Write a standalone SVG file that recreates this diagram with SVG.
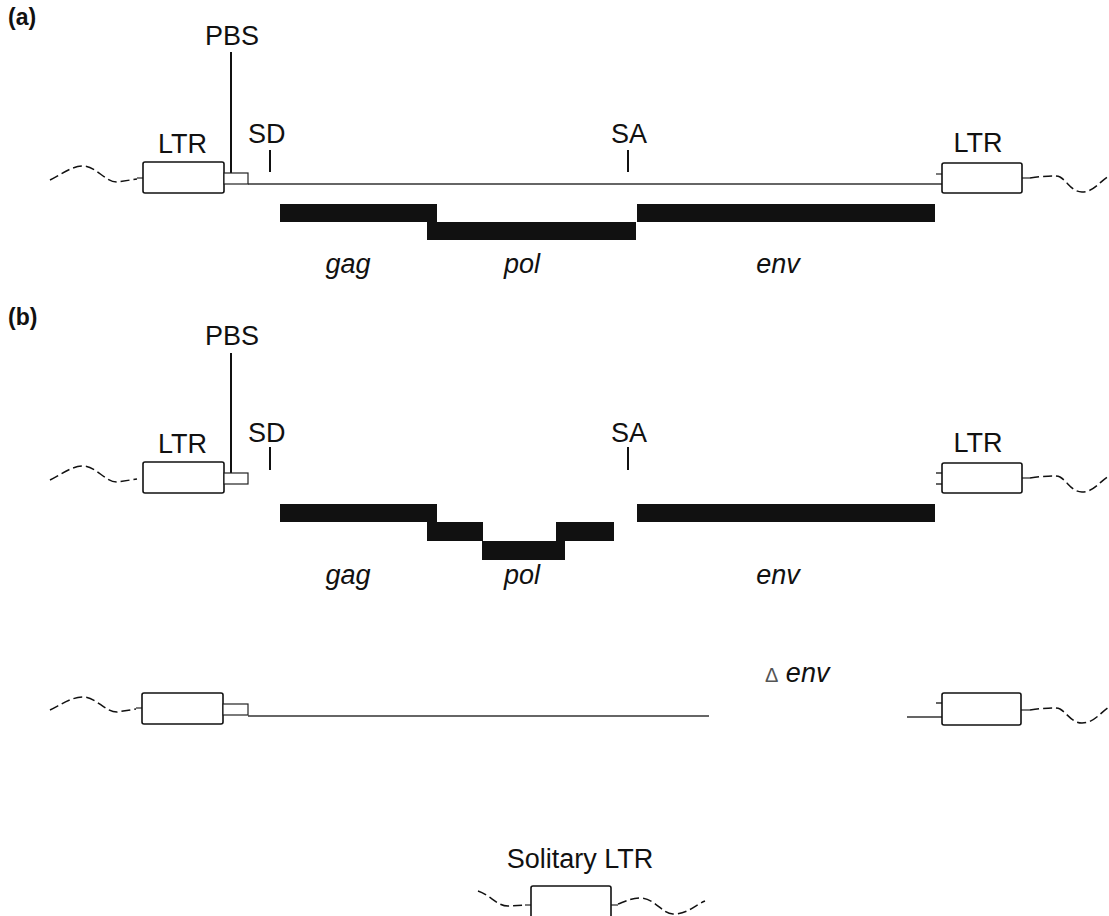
<svg xmlns="http://www.w3.org/2000/svg" width="1109" height="916" viewBox="0 0 1109 916">
<style>
.lbl{font-family:"Liberation Sans",Arial,sans-serif;font-size:27px;fill:#111}
.gene{font-family:"Liberation Sans",Arial,sans-serif;font-size:27px;font-style:italic;fill:#111}
.panel{font-family:"Liberation Sans",Arial,sans-serif;font-size:23px;font-weight:bold;fill:#111}
.box{fill:#fff;stroke:#111;stroke-width:1.6}
.pbs{fill:#fff;stroke:#222;stroke-width:1.2}
.wave{fill:none;stroke:#111;stroke-width:1.5;stroke-dasharray:9 4}
.ln{fill:none;stroke:#333;stroke-width:1.3}
.tick{fill:none;stroke:#111;stroke-width:2}
.bar{fill:#111}
</style>
<rect width="1109" height="916" fill="#fff"/>

<text class="panel" x="8" y="25">(a)</text>
<text class="panel" x="8" y="325">(b)</text>

<g id="connectors">
  <!-- row a -->
  <path class="wave" d="M50,180 C62,174 72,166 83,166 C96,166 105,182 117,182 L137,179"/>
  <path class="ln" d="M137,178 H143"/>
  <path class="ln" d="M248,184 H942"/>
  <path class="ln" d="M936,174 H942"/>
  <path class="ln" d="M1022,178 H1030"/>
  <path class="wave" d="M1030,178 C1045,176 1055,175 1060,177 C1068,182 1072,192 1082,192 C1094,192 1100,181 1109,176"/>
  <path class="tick" d="M231,52 V173"/>
  <!-- row b -->
  <path class="wave" d="M50,480 C62,474 72,466 83,466 C96,466 105,482 117,482 L137,479"/>
  <path class="tick" d="M231,353 V475"/>
  <path class="ln" d="M936,473 H942 M936,484 H942"/>
  <path class="ln" d="M1022,478 H1030"/>
  <path class="wave" d="M1030,478 C1045,476 1055,475 1060,477 C1068,482 1072,492 1082,492 C1094,492 1100,481 1109,476"/>
  <!-- row delta env -->
  <path class="wave" d="M50,710 C62,704 72,697 83,697 C96,697 105,712 117,712 L136,709"/>
  <path class="ln" d="M136,708 H142"/>
  <path class="ln" d="M248,716 H709"/>
  <path class="ln" d="M907,717 H942 M936,703 H942"/>
  <path class="ln" d="M1021,710 H1030"/>
  <path class="wave" d="M1030,710 C1045,708 1055,707 1060,709 C1068,714 1072,723 1082,723 C1094,723 1100,713 1109,707"/>
  <!-- solitary -->
  <path class="wave" d="M478,891 C490,895 497,906 508,906 L525,905"/>
  <path class="ln" d="M525,905 H531"/>
  <path class="ln" d="M611,905 H618"/>
  <path class="wave" d="M618,904 C626,901 632,898 640,898 C655,898 662,914 673,914 C688,914 695,905 705,901"/>
</g>

<!-- (a) -->
<g id="ltr-a-left">
  <rect class="box" x="143" y="162" width="81" height="31" rx="2"/>
  <text class="lbl" x="158" y="153">LTR</text>
</g>
<g id="pbs-a">
  <rect class="pbs" x="224" y="173" width="24" height="11"/>
  <text class="lbl" x="232" y="45" text-anchor="middle">PBS</text>
</g>
<g id="sd-a">
  <path class="tick" d="M270,150 V172"/>
  <text class="lbl" x="248" y="143">SD</text>
</g>
<g id="sa-a">
  <path class="tick" d="M628,150 V172"/>
  <text class="lbl" x="629" y="143" text-anchor="middle">SA</text>
</g>
<g id="ltr-a-right">
  <rect class="box" x="942" y="163" width="80" height="30" rx="2"/>
  <text class="lbl" x="978" y="152" text-anchor="middle">LTR</text>
</g>
<g id="gag-a">
  <rect class="bar" x="280" y="204" width="157" height="18"/>
  <text class="gene" x="348" y="273" text-anchor="middle">gag</text>
</g>
<g id="pol-a">
  <rect class="bar" x="427" y="222" width="209" height="18"/>
  <text class="gene" x="522" y="273" text-anchor="middle">pol</text>
</g>
<g id="env-a">
  <rect class="bar" x="637" y="204" width="298" height="18"/>
  <text class="gene" x="778" y="273" text-anchor="middle">env</text>
</g>

<!-- (b) -->
<g id="ltr-b-left">
  <rect class="box" x="143" y="462" width="81" height="31" rx="2"/>
  <text class="lbl" x="158" y="453">LTR</text>
</g>
<g id="pbs-b">
  <rect class="pbs" x="224" y="473" width="24" height="11"/>
  <text class="lbl" x="232" y="345" text-anchor="middle">PBS</text>
</g>
<g id="sd-b">
  <path class="tick" d="M270,447 V470"/>
  <text class="lbl" x="248" y="442">SD</text>
</g>
<g id="sa-b">
  <path class="tick" d="M628,447 V470"/>
  <text class="lbl" x="629" y="442" text-anchor="middle">SA</text>
</g>
<g id="ltr-b-right">
  <rect class="box" x="942" y="463" width="80" height="30" rx="2"/>
  <text class="lbl" x="978" y="452" text-anchor="middle">LTR</text>
</g>
<g id="gag-b">
  <rect class="bar" x="280" y="504" width="157" height="18"/>
  <text class="gene" x="348" y="584" text-anchor="middle">gag</text>
</g>
<g id="pol-b">
  <rect class="bar" x="427" y="522" width="56" height="19"/>
  <rect class="bar" x="482" y="541" width="83" height="19"/>
  <rect class="bar" x="556" y="522" width="58" height="19"/>
  <text class="gene" x="522" y="584" text-anchor="middle">pol</text>
</g>
<g id="env-b">
  <rect class="bar" x="637" y="504" width="298" height="18"/>
  <text class="gene" x="778" y="584" text-anchor="middle">env</text>
</g>

<!-- delta env -->
<g id="delta-env-left">
  <rect class="box" x="142" y="693" width="81" height="31" rx="2"/>
  <rect class="pbs" x="223" y="704" width="25" height="11"/>
</g>
<g id="delta-env-label">
  <text class="gene" x="765" y="682"><tspan font-style="normal" font-size="20" fill="#555">Δ</tspan> env</text>
</g>
<g id="delta-env-right">
  <rect class="box" x="942" y="693" width="79" height="32" rx="2"/>
</g>

<!-- solitary LTR -->
<g id="solitary-ltr">
  <rect class="box" x="531" y="886" width="80" height="40" rx="2"/>
  <text class="lbl" x="580" y="868" text-anchor="middle">Solitary LTR</text>
</g>
</svg>
